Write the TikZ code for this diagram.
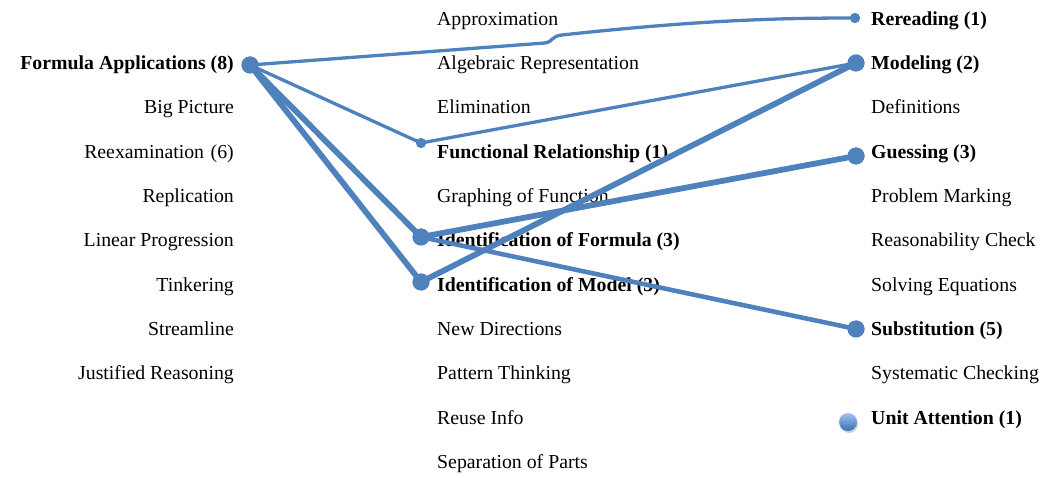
\documentclass[tikz,border=0pt]{standalone}
\usepackage{fontspec}
\setmainfont{Liberation Serif}
\definecolor{linkblue}{RGB}{79,129,189}
\definecolor{ballhi}{RGB}{160,195,240}
\definecolor{balllo}{RGB}{60,110,180}
\begin{document}
\begin{tikzpicture}[x=1pt,y=-1pt,
  lbl/.style={inner sep=0pt,font=\fontsize{19.8}{22}\selectfont,text=black},
  lblb/.style={lbl,font=\fontsize{19.8}{22}\selectfont\bfseries},
  bigdot/.style={circle,fill=linkblue,inner sep=0pt,minimum size=17pt},
  smalldot/.style={circle,fill=linkblue,inner sep=0pt,minimum size=10pt},
  thinlink/.style={draw=linkblue,line width=3.3pt,line cap=round},
  midlink/.style={draw=linkblue,line width=4.6pt,line cap=round},
  thicklink/.style={draw=linkblue,line width=5.8pt,line cap=round}]
\useasboundingbox (0,0) rectangle (1042,478);

% left column (right aligned)
\node[lblb,anchor=base east] (l0) at (234,69.5) {Formula Applications (8)};
\node[lbl,anchor=base east] (l1) at (234,113.9) {Big Picture};
\node[lbl,anchor=base east] (l2) at (234,158.2) {Reexamination\,\,(6)};
\node[lbl,anchor=base east] (l3) at (234,202.6) {Replication};
\node[lbl,anchor=base east] (l4) at (234,246.9) {Linear Progression};
\node[lbl,anchor=base east] (l5) at (234,291.3) {Tinkering};
\node[lbl,anchor=base east] (l6) at (234,335.7) {Streamline};
\node[lbl,anchor=base east] (l7) at (234,380.0) {Justified Reasoning};

% middle column
\node[lbl,anchor=base west] (m0) at (437,25.1) {Approximation};
\node[lbl,anchor=base west] (m1) at (437,69.5) {Algebraic Representation};
\node[lbl,anchor=base west] (m2) at (437,113.9) {Elimination};
\node[lblb,anchor=base west] (m3) at (437,158.2) {Functional Relationship (1)};
\node[lbl,anchor=base west] (m4) at (437,202.6) {Graphing of Function};
\node[lblb,anchor=base west] (m5) at (437,246.9) {Identification of Formula (3)};
\node[lblb,anchor=base west] (m6) at (437,291.3) {Identification of Model (3)};
\node[lbl,anchor=base west] (m7) at (437,335.7) {New Directions};
\node[lbl,anchor=base west] (m8) at (437,380.0) {Pattern Thinking};
\node[lbl,anchor=base west] (m9) at (437,424.4) {Reuse Info};
\node[lbl,anchor=base west] (m10) at (437,468.7) {Separation of Parts};

% right column
\node[lblb,anchor=base west] (r0) at (871,25.1) {Rereading (1)};
\node[lblb,anchor=base west] (r1) at (871,69.5) {Modeling (2)};
\node[lbl,anchor=base west] (r2) at (871,113.9) {Definitions};
\node[lblb,anchor=base west] (r3) at (871,158.2) {Guessing (3)};
\node[lbl,anchor=base west] (r4) at (871,202.6) {Problem Marking};
\node[lbl,anchor=base west] (r5) at (871,246.9) {Reasonability Check};
\node[lbl,anchor=base west] (r6) at (871,291.3) {Solving Equations};
\node[lblb,anchor=base west] (r7) at (871,335.7) {Substitution (5)};
\node[lbl,anchor=base west] (r8) at (871,380.0) {Systematic Checking};
\node[lblb,anchor=base west] (r9) at (871,424.4) {Unit Attention (1)};

% link end points
\node[bigdot] (dFA) at (250,65) {};
\node[smalldot] (dRe) at (855,18) {};
\node[bigdot] (dMo) at (856,63) {};
\node[bigdot] (dGu) at (856,156) {};
\node[bigdot] (dSu) at (856,329) {};
\node[smalldot] (dFR) at (421,143) {};
\node[bigdot] (dIF) at (421,237) {};
\node[bigdot] (dIM) at (421,282) {};

% links
\draw[thinlink] (dFA.center) -- (545,43) .. controls (553,42) and (551,36) .. (562,35)
   .. controls (700,20) and (780,18) .. (dRe.center);
\draw[thinlink] (dFA.center) -- (dFR.center);
\draw[thinlink] (dFR.center) -- (dMo.center);
\draw[thicklink] (dFA.center) -- (dIF.center);
\draw[thicklink] (dFA.center) -- (dIM.center);
\draw[thicklink] (dIF.center) -- (dGu.center);
\draw[thicklink] (dIM.center) -- (dMo.center);
\draw[midlink] (dIF.center) -- (dSu.center);

% redraw dots on top of the links
\node[bigdot] at (dFA) {};
\node[smalldot] at (dRe) {};
\node[bigdot] at (dMo) {};
\node[bigdot] at (dGu) {};
\node[bigdot] at (dSu) {};
\node[smalldot] at (dFR) {};
\node[bigdot] at (dIF) {};
\node[bigdot] at (dIM) {};

% unconnected item marker
\fill[black!18] (849,424) circle (9pt);
\shade[top color=ballhi,bottom color=balllo] (848,422) circle (9pt);
\node[inner sep=0pt,minimum size=18pt] (dUA) at (848,422) {};
\end{tikzpicture}
\end{document}
